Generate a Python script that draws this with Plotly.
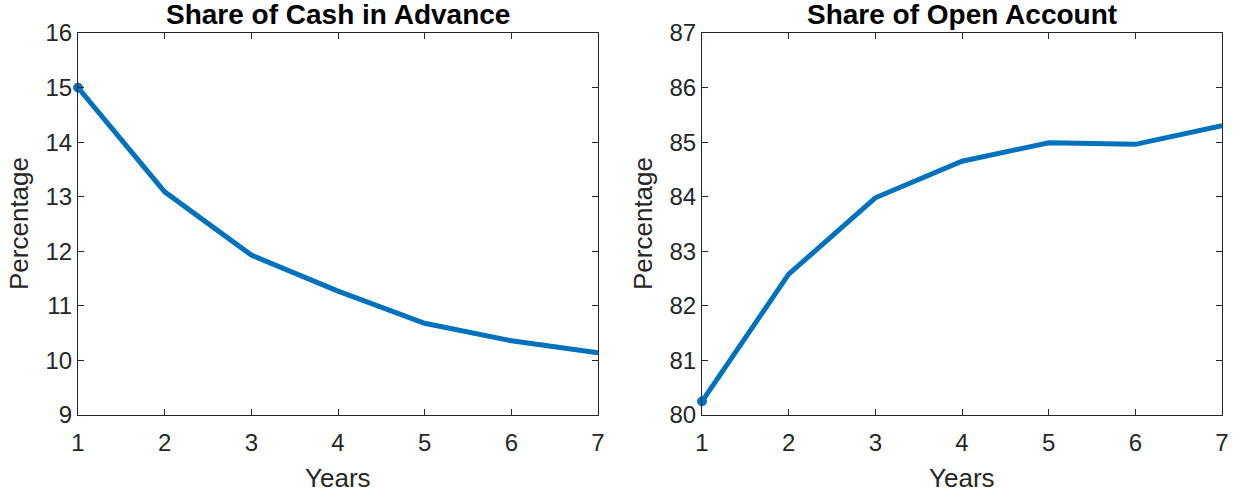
import plotly.graph_objects as go
from plotly.subplots import make_subplots

years = [1, 2, 3, 4, 5, 6, 7]
cash_in_advance = [15.0, 13.09, 11.93, 11.27, 10.68, 10.36, 10.14]
open_account = [80.25, 82.58, 83.98, 84.65, 84.99, 84.96, 85.30]

titles = ["Share of Cash in Advance", "Share of Open Account"]
y_ranges = [(9, 16), (80, 87)]

LINE_COLOR = "#0072BD"
AX_COLOR = "#262626"
FONT = "Liberation Sans, Arial, Helvetica, sans-serif"

W, H = 1239, 495

fig = make_subplots(rows=1, cols=2)

# only the first point carries a visible dot
marker_sizes = [9] + [0] * (len(years) - 1)
for i, series in enumerate([cash_in_advance, open_account]):
    fig.add_trace(
        go.Scatter(
            x=years, y=series, mode="lines+markers",
            line=dict(color=LINE_COLOR, width=5),
            marker=dict(color=LINE_COLOR, size=marker_sizes, opacity=1,
                        line=dict(width=1, color=LINE_COLOR)),
            showlegend=False, cliponaxis=False,
        ),
        row=1, col=i + 1,
    )

x_domains = [(78 / W, 598 / W), (702 / W, 1222 / W)]
y_domain = (1 - 415 / H, 1 - 33 / H)

axis_common = dict(
    showline=True, linecolor=AX_COLOR, linewidth=1, mirror="ticks",
    ticks="inside", ticklen=6, tickwidth=1, tickcolor=AX_COLOR,
    showgrid=False, zeroline=False, automargin=False,
    tickfont=dict(family=FONT, size=24, color=AX_COLOR),
)

for i in range(2):
    xa = "xaxis" if i == 0 else "xaxis2"
    ya = "yaxis" if i == 0 else "yaxis2"
    fig.layout[xa].update(
        domain=list(x_domains[i]), range=[1, 7], dtick=1, ticklabelstandoff=6,
        **axis_common,
    )
    fig.layout[ya].update(
        domain=list(y_domain), range=list(y_ranges[i]), dtick=1, **axis_common,
    )
    cx = (x_domains[i][0] + x_domains[i][1]) / 2
    # chart title
    fig.add_annotation(
        text="<b>" + titles[i] + "</b>", x=cx, y=1 - 15 / H,
        xref="paper", yref="paper", showarrow=False,
        font=dict(family=FONT, size=28, color="#000000"),
        xanchor="center", yanchor="middle",
    )
    # x-axis label
    fig.add_annotation(
        text="Years", x=cx, y=1 - 478 / H,
        xref="paper", yref="paper", showarrow=False,
        font=dict(family=FONT, size=26, color=AX_COLOR),
        xanchor="center", yanchor="middle",
    )
    # y-axis label
    fig.add_annotation(
        text="Percentage", x=(x_domains[i][0] * W - 59) / W,
        y=(y_domain[0] + y_domain[1]) / 2,
        xref="paper", yref="paper", showarrow=False, textangle=-90,
        font=dict(family=FONT, size=26, color=AX_COLOR),
        xanchor="center", yanchor="middle",
    )

fig.update_layout(
    width=W, height=H,
    margin=dict(l=0, r=0, t=0, b=0),
    paper_bgcolor="white", plot_bgcolor="white",
)

fig.write_html("out.html")
